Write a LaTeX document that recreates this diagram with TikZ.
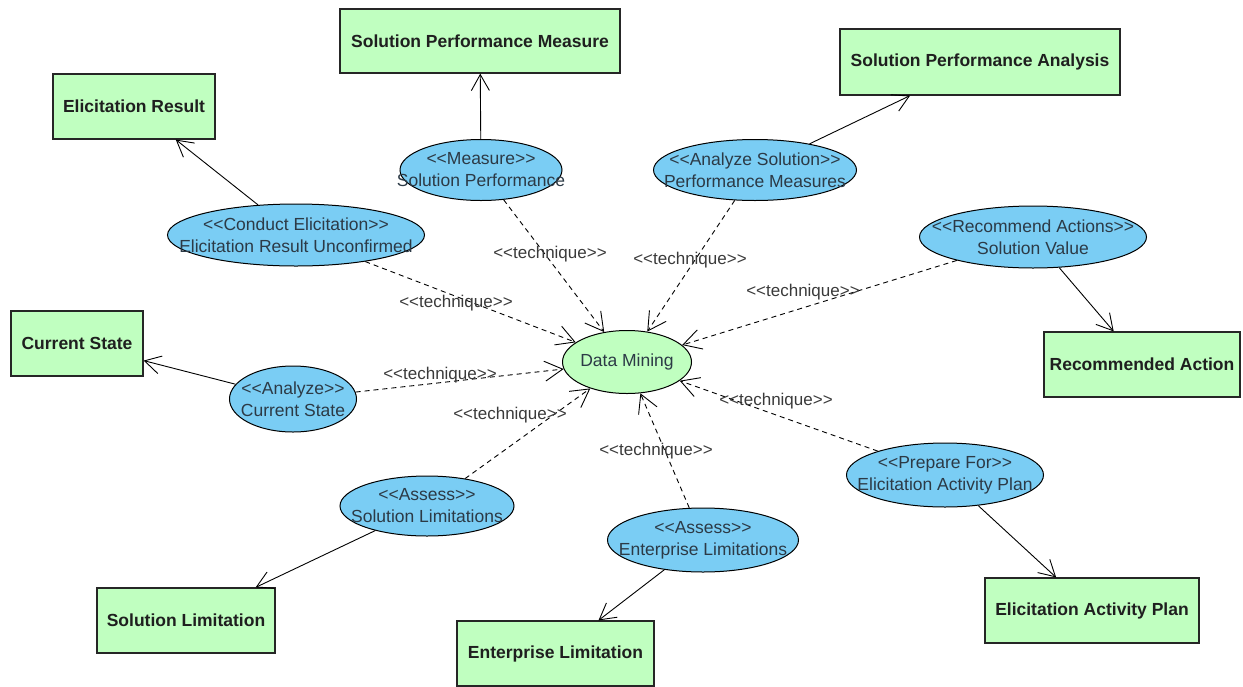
\documentclass[tikz,border=0pt]{standalone}
\usepackage{fontspec}
% plain family, no TeX ligature mapping, so << and >> stay as typed
\newfontfamily\umlfont{Liberation Sans}
\usetikzlibrary{shapes.geometric,arrows.meta}
\definecolor{artifactgreen}{HTML}{C0FFC0}
\definecolor{usecaseblue}{HTML}{7ACDF4}
\definecolor{uctextcol}{HTML}{2C3A46}
\definecolor{labelcol}{HTML}{3A3A3A}
\begin{document}
\begin{tikzpicture}[x=1pt,y=-1pt,
  artifact/.style={rectangle, draw=black!85, line width=1.2pt, fill=artifactgreen,
    inner sep=0pt, text=black!88,
    font=\umlfont\fontsize{17.5}{21}\selectfont\bfseries},
  usecase/.style={ellipse, draw=black, line width=1pt, fill=usecaseblue, inner sep=0pt},
  uctext/.style={align=center, text=uctextcol, inner sep=0pt,
    font=\umlfont\fontsize{17.5}{22}\selectfont},
  stereo/.style={text=labelcol, inner sep=0pt,
    font=\umlfont\fontsize{17}{20}\selectfont},
  produces/.style={line width=0.9pt, -{Straight Barb[length=16pt,width=18pt]}},
  dep/.style={line width=0.9pt, dash pattern=on 5pt off 4pt,
    -{Straight Barb[length=18pt,width=20pt]}},
]
\useasboundingbox (0,0) rectangle (1243,686);

% central technique
\node[usecase, fill=artifactgreen, minimum width=129, minimum height=63,
  label={[uctext]center:Data Mining}] (mining) at (627,362) {};

% tasks using the technique
\node[usecase, minimum width=257, minimum height=62,
  label={[uctext]center:{<<Conduct Elicitation>>\\Elicitation Result Unconfirmed}}] (conduct) at (296,235) {};
\node[usecase, minimum width=162, minimum height=61,
  label={[uctext]center:{<<Measure>>\\Solution Performance}}] (measure) at (481,170) {};
\node[usecase, minimum width=203, minimum height=61,
  label={[uctext]center:{<<Analyze Solution>>\\Performance Measures}}] (analyze) at (755,170) {};
\node[usecase, minimum width=227, minimum height=62,
  label={[uctext]center:{<<Recommend Actions>>\\Solution Value}}] (recommend) at (1033,237) {};
\node[usecase, minimum width=127, minimum height=66,
  label={[uctext]center:{<<Analyze>>\\Current State}}] (current) at (293,399) {};
\node[usecase, minimum width=174, minimum height=60,
  label={[uctext]center:{<<Assess>>\\Solution Limitations}}] (assesssol) at (427,506) {};
\node[usecase, minimum width=191, minimum height=64,
  label={[uctext]center:{<<Assess>>\\Enterprise Limitations}}] (assessent) at (703,540) {};
\node[usecase, minimum width=197, minimum height=64,
  label={[uctext]center:{<<Prepare For>>\\Elicitation Activity Plan}}] (prepare) at (945,475) {};

% outputs
\node[artifact, minimum width=162, minimum height=65] (elres) at (134,106.5) {Elicitation Result};
\node[artifact, minimum width=280, minimum height=64] (spm) at (480,41) {Solution Performance Measure};
\node[artifact, minimum width=280, minimum height=66] (spa) at (980,62) {Solution Performance Analysis};
\node[artifact, minimum width=132, minimum height=65] (cstate) at (77,343.5) {Current State};
\node[artifact, minimum width=196, minimum height=65] (recact) at (1142,364.5) {Recommended Action};
\node[artifact, minimum width=178, minimum height=65] (sollim) at (186,620.5) {Solution Limitation};
\node[artifact, minimum width=197, minimum height=65] (entlim) at (555.5,653.5) {Enterprise Limitation};
\node[artifact, minimum width=214, minimum height=65] (eap) at (1092,610.5) {Elicitation Activity Plan};

% task -> output
\draw[produces] (conduct) -- (elres);
\draw[produces] (measure) -- (spm);
\draw[produces] (analyze) -- (spa);
\draw[produces] (recommend) -- (recact);
\draw[produces] (current) -- (cstate);
\draw[produces] (assesssol) -- (sollim);
\draw[produces] (assessent) -- (entlim);
\draw[produces] (prepare) -- (eap);

% task -> technique
\draw[dep] (conduct) -- (mining);
\draw[dep] (measure) -- (mining);
\draw[dep] (analyze) -- (mining);
\draw[dep] (recommend) -- (mining);
\draw[dep] (current) -- (mining);
\draw[dep] (assesssol) -- (mining);
\draw[dep] (assessent) -- (mining);
\draw[dep] (prepare) -- (mining);

% stereotype labels
\node[stereo] (tq1) at (456,303) {<<technique>>};
\node[stereo] (tq2) at (550,254) {<<technique>>};
\node[stereo] (tq3) at (690,260) {<<technique>>};
\node[stereo] (tq4) at (803,292) {<<technique>>};
\node[stereo] (tq5) at (440,375) {<<technique>>};
\node[stereo] (tq6) at (510,415) {<<technique>>};
\node[stereo] (tq7) at (656,451) {<<technique>>};
\node[stereo] (tq8) at (776,401) {<<technique>>};
\end{tikzpicture}
\end{document}
